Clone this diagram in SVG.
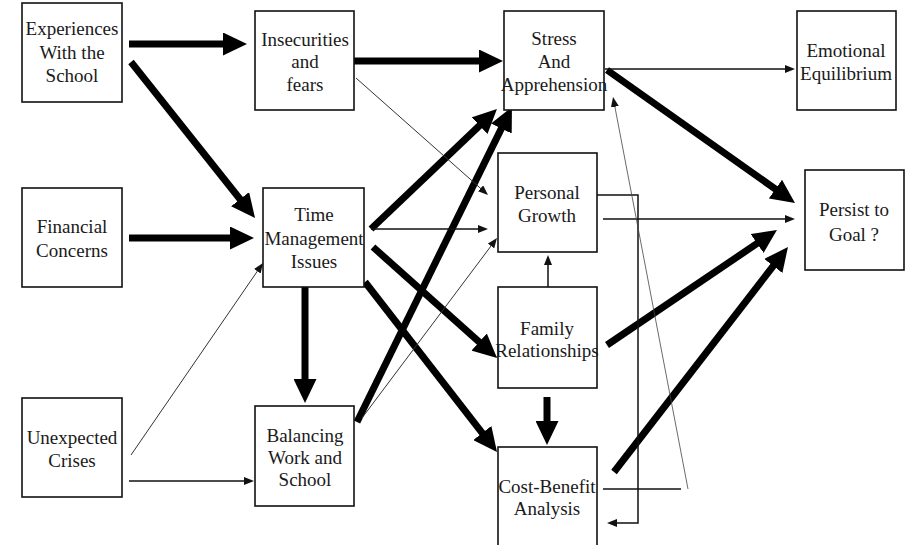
<svg xmlns="http://www.w3.org/2000/svg" width="917" height="545" viewBox="0 0 917 545">
<style>
.box{fill:#fff;stroke:#111;stroke-width:1.6}
.t{font-family:"Liberation Serif","Times New Roman",serif;font-size:19px;fill:#1a1a1a;text-anchor:middle}
.thick{stroke:#000;stroke-width:7;fill:none;marker-end:url(#big)}
.thin{stroke:#111;stroke-width:1.5;fill:none;marker-end:url(#small)}
.hair{stroke:#333;stroke-width:1;fill:none;marker-end:url(#small)}
.faint{stroke:#444;stroke-width:0.8;fill:none;marker-end:url(#small)}
</style>
<defs>
<marker id="big" markerUnits="userSpaceOnUse" viewBox="0 0 24 23" markerWidth="24" markerHeight="23" refX="1" refY="11.5" orient="auto"><path d="M0,0 L24,11.5 L0,23 z" fill="#000"/></marker>
<marker id="small" markerUnits="userSpaceOnUse" viewBox="0 0 10 8" markerWidth="10" markerHeight="8" refX="1" refY="4" orient="auto"><path d="M0,0 L10,4 L0,8 z" fill="#111"/></marker>
</defs>
<rect width="917" height="545" fill="#fff"/>
<g id="connectors">
<path class="thick" d="M129,44 L224,44"/>
<path class="thick" d="M131,62 L240.7,200"/>
<path class="thick" d="M129,238 L231,238"/>
<path class="thick" d="M354,61 L480,61"/>
<path class="thick" d="M607,70 L776.2,189.7"/>
<path class="thick" d="M371,229 L480.3,124.9"/>
<path class="thick" d="M357,422 L501.8,127.6"/>
<path class="thick" d="M373,247 L479.9,342.7"/>
<path class="thick" d="M365,282 L482.9,433.8"/>
<path class="thick" d="M305,287 L305,380"/>
<path class="thick" d="M607,345 L757.9,242.9"/>
<path class="thick" d="M614,472 L773.9,265.2"/>
<path class="thick" d="M547,397 L547,422"/>
<path class="hair" d="M356,78 L481.3,189"/>
<path class="thin" d="M605,69 L786,69"/>
<path class="thin" d="M371,229 L479,229"/>
<path class="hair" d="M362,418 L491.6,245.2"/>
<path class="hair" d="M131,455 L257.9,270.4"/>
<path class="thin" d="M129,481 L245,481"/>
<path class="thin" d="M603,219 L786,219"/>
<path class="thin" d="M597,195 H638 V523 H616"/>
<path class="thin" d="M548,287 L548,264"/>
<path class="thin" d="M603,489 H681" style="marker-end:none"/>
<path class="faint" d="M688,489 L614.7,105.8"/>
</g>
<g id="experiences"><rect class="box" x="22" y="3" width="100" height="99"/><text class="t" x="72" y="35">Experiences</text><text class="t" x="72" y="59">With the</text><text class="t" x="72" y="82">School</text></g>
<g id="insecurities"><rect class="box" x="255" y="11" width="99" height="99"/><text class="t" x="305" y="46">Insecurities</text><text class="t" x="305" y="68">and</text><text class="t" x="305" y="91">fears</text></g>
<g id="stress"><rect class="box" x="504" y="11" width="100" height="99"/><text class="t" x="554" y="45">Stress</text><text class="t" x="554" y="68">And</text><text class="t" x="554" y="91">Apprehension</text></g>
<g id="emotional"><rect class="box" x="797" y="11" width="99" height="99"/><text class="t" x="846" y="57">Emotional</text><text class="t" x="846" y="80">Equilibrium</text></g>
<g id="financial"><rect class="box" x="22" y="188" width="100" height="99"/><text class="t" x="72" y="233">Financial</text><text class="t" x="72" y="257">Concerns</text></g>
<g id="time"><rect class="box" x="263" y="188" width="101" height="99"/><text class="t" x="314" y="221">Time</text><text class="t" x="314" y="245">Management</text><text class="t" x="314" y="268">Issues</text></g>
<g id="personal"><rect class="box" x="498" y="153" width="99" height="99"/><text class="t" x="547" y="199">Personal</text><text class="t" x="547" y="222">Growth</text></g>
<g id="persist"><rect class="box" x="805" y="170" width="99" height="100"/><text class="t" x="854" y="216">Persist to</text><text class="t" x="854" y="241">Goal ?</text></g>
<g id="family"><rect class="box" x="498" y="287" width="99" height="101"/><text class="t" x="547" y="335">Family</text><text class="t" x="547" y="357">Relationships</text></g>
<g id="unexpected"><rect class="box" x="22" y="398" width="100" height="99"/><text class="t" x="72" y="444">Unexpected</text><text class="t" x="72" y="467">Crises</text></g>
<g id="balancing"><rect class="box" x="255" y="406" width="99" height="100"/><text class="t" x="305" y="442">Balancing</text><text class="t" x="305" y="464">Work and</text><text class="t" x="305" y="486">School</text></g>
<g id="costbenefit"><rect class="box" x="498" y="447" width="99" height="99"/><text class="t" x="547" y="493">Cost-Benefit</text><text class="t" x="547" y="515">Analysis</text></g>
</svg>
